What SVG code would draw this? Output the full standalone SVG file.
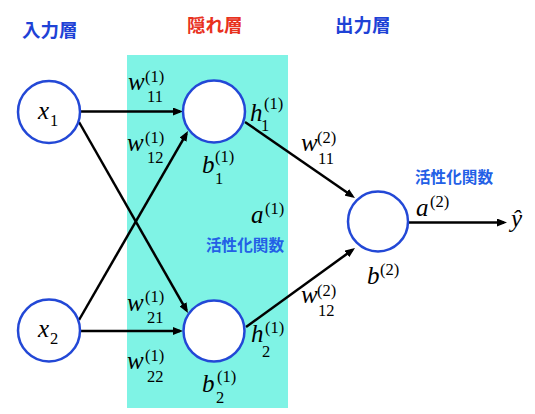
<svg xmlns="http://www.w3.org/2000/svg" width="535" height="414" viewBox="0 0 535 414">
<style>
.node{fill:#fff;stroke:#2348d6;stroke-width:2.5}
.edge{stroke:#000;stroke-width:2.5;fill:none;marker-end:url(#arr)}
.m{font-family:"Liberation Serif",serif;font-style:italic;font-size:25px;fill:#000}
.s{font-family:"Liberation Serif",serif;font-size:16.5px;fill:#000}
.ttl{font-family:"Noto Sans CJK JP","Noto Sans CJK SC",sans-serif;font-weight:bold;font-size:18.5px}
.act{font-family:"Noto Sans CJK JP","Noto Sans CJK SC",sans-serif;font-weight:bold;font-size:15.6px;fill:#2360e6}
</style>
<defs>
<marker id="arr" markerUnits="userSpaceOnUse" markerWidth="10" markerHeight="8" refX="7" refY="4" orient="auto">
<path d="M0,0 L10,4 L0,8 z" fill="#000"/>
</marker>
</defs>
<rect id="hidden-bg" x="127" y="55" width="161" height="353" fill="#7ff3e5"/>
<g id="titles">
<text class="ttl" x="22" y="37" fill="#1e42d6">入力層</text>
<text class="ttl" x="187" y="32" fill="#e8321e">隠れ層</text>
<text class="ttl" x="335" y="32" fill="#1e42d6">出力層</text>
</g>
<g id="connectors">
<line class="edge" x1="80" y1="111.5" x2="180" y2="111.5"/>
<line class="edge" x1="79" y1="122" x2="186.5" y2="310.4"/>
<line class="edge" x1="79" y1="320" x2="186.5" y2="133.6"/>
<line class="edge" x1="80" y1="331" x2="180" y2="331"/>
<line class="edge" x1="245" y1="122" x2="352.5" y2="196.3"/>
<line class="edge" x1="246" y1="327" x2="352.6" y2="249.8"/>
<line class="edge" x1="409" y1="222.5" x2="504" y2="222.5"/>
</g>
<g id="x1">
<circle class="node" cx="49" cy="112" r="31"/>
<text class="m" x="38" y="119">x</text><text class="s" x="50" y="126">1</text>
</g>
<g id="x2">
<circle class="node" cx="49" cy="330.5" r="31"/>
<text class="m" x="38" y="337">x</text><text class="s" x="50" y="344">2</text>
</g>
<g id="h1">
<circle class="node" cx="214" cy="111.5" r="31"/>
<text class="m" x="202" y="173">b</text><text class="s" x="215" y="162">(1)</text><text class="s" x="215" y="184">1</text>
<text class="m" x="250" y="121">h</text><text class="s" x="264" y="109">(1)</text><text class="s" x="261" y="131">1</text>
</g>
<g id="h2">
<circle class="node" cx="214" cy="331" r="30.5"/>
<text class="m" x="202" y="392">b</text><text class="s" x="217" y="382">(1)</text><text class="s" x="216" y="403">2</text>
<text class="m" x="251" y="342">h</text><text class="s" x="265" y="333">(1)</text><text class="s" x="262" y="357">2</text>
</g>
<g id="out">
<circle class="node" cx="378" cy="221.5" r="30"/>
<text class="m" x="367" y="284">b</text><text class="s" x="380" y="275">(2)</text>
</g>
<g id="weights">
<text class="m" x="128" y="90">w</text><text class="s" x="145" y="82">(1)</text><text class="s" x="147" y="102">11</text>
<text class="m" x="127" y="151">w</text><text class="s" x="145" y="143">(1)</text><text class="s" x="147" y="163">12</text>
<text class="m" x="127" y="311">w</text><text class="s" x="145" y="302">(1)</text><text class="s" x="147" y="323">21</text>
<text class="m" x="127" y="369">w</text><text class="s" x="145" y="361">(1)</text><text class="s" x="147" y="382">22</text>
<text class="m" x="301" y="151">w</text><text class="s" x="317" y="143">(2)</text><text class="s" x="318" y="164">11</text>
<text class="m" x="301" y="303">w</text><text class="s" x="317" y="296">(2)</text><text class="s" x="318" y="316">12</text>
</g>
<g id="activations">
<text class="m" x="251" y="223">a</text><text class="s" x="265" y="214">(1)</text>
<text class="act" x="206" y="251">活性化関数</text>
<text class="act" x="415" y="183">活性化関数</text>
<text class="m" x="416" y="216">a</text><text class="s" x="430" y="207">(2)</text>
<text class="m" x="511" y="227">ŷ</text>
</g>
</svg>
